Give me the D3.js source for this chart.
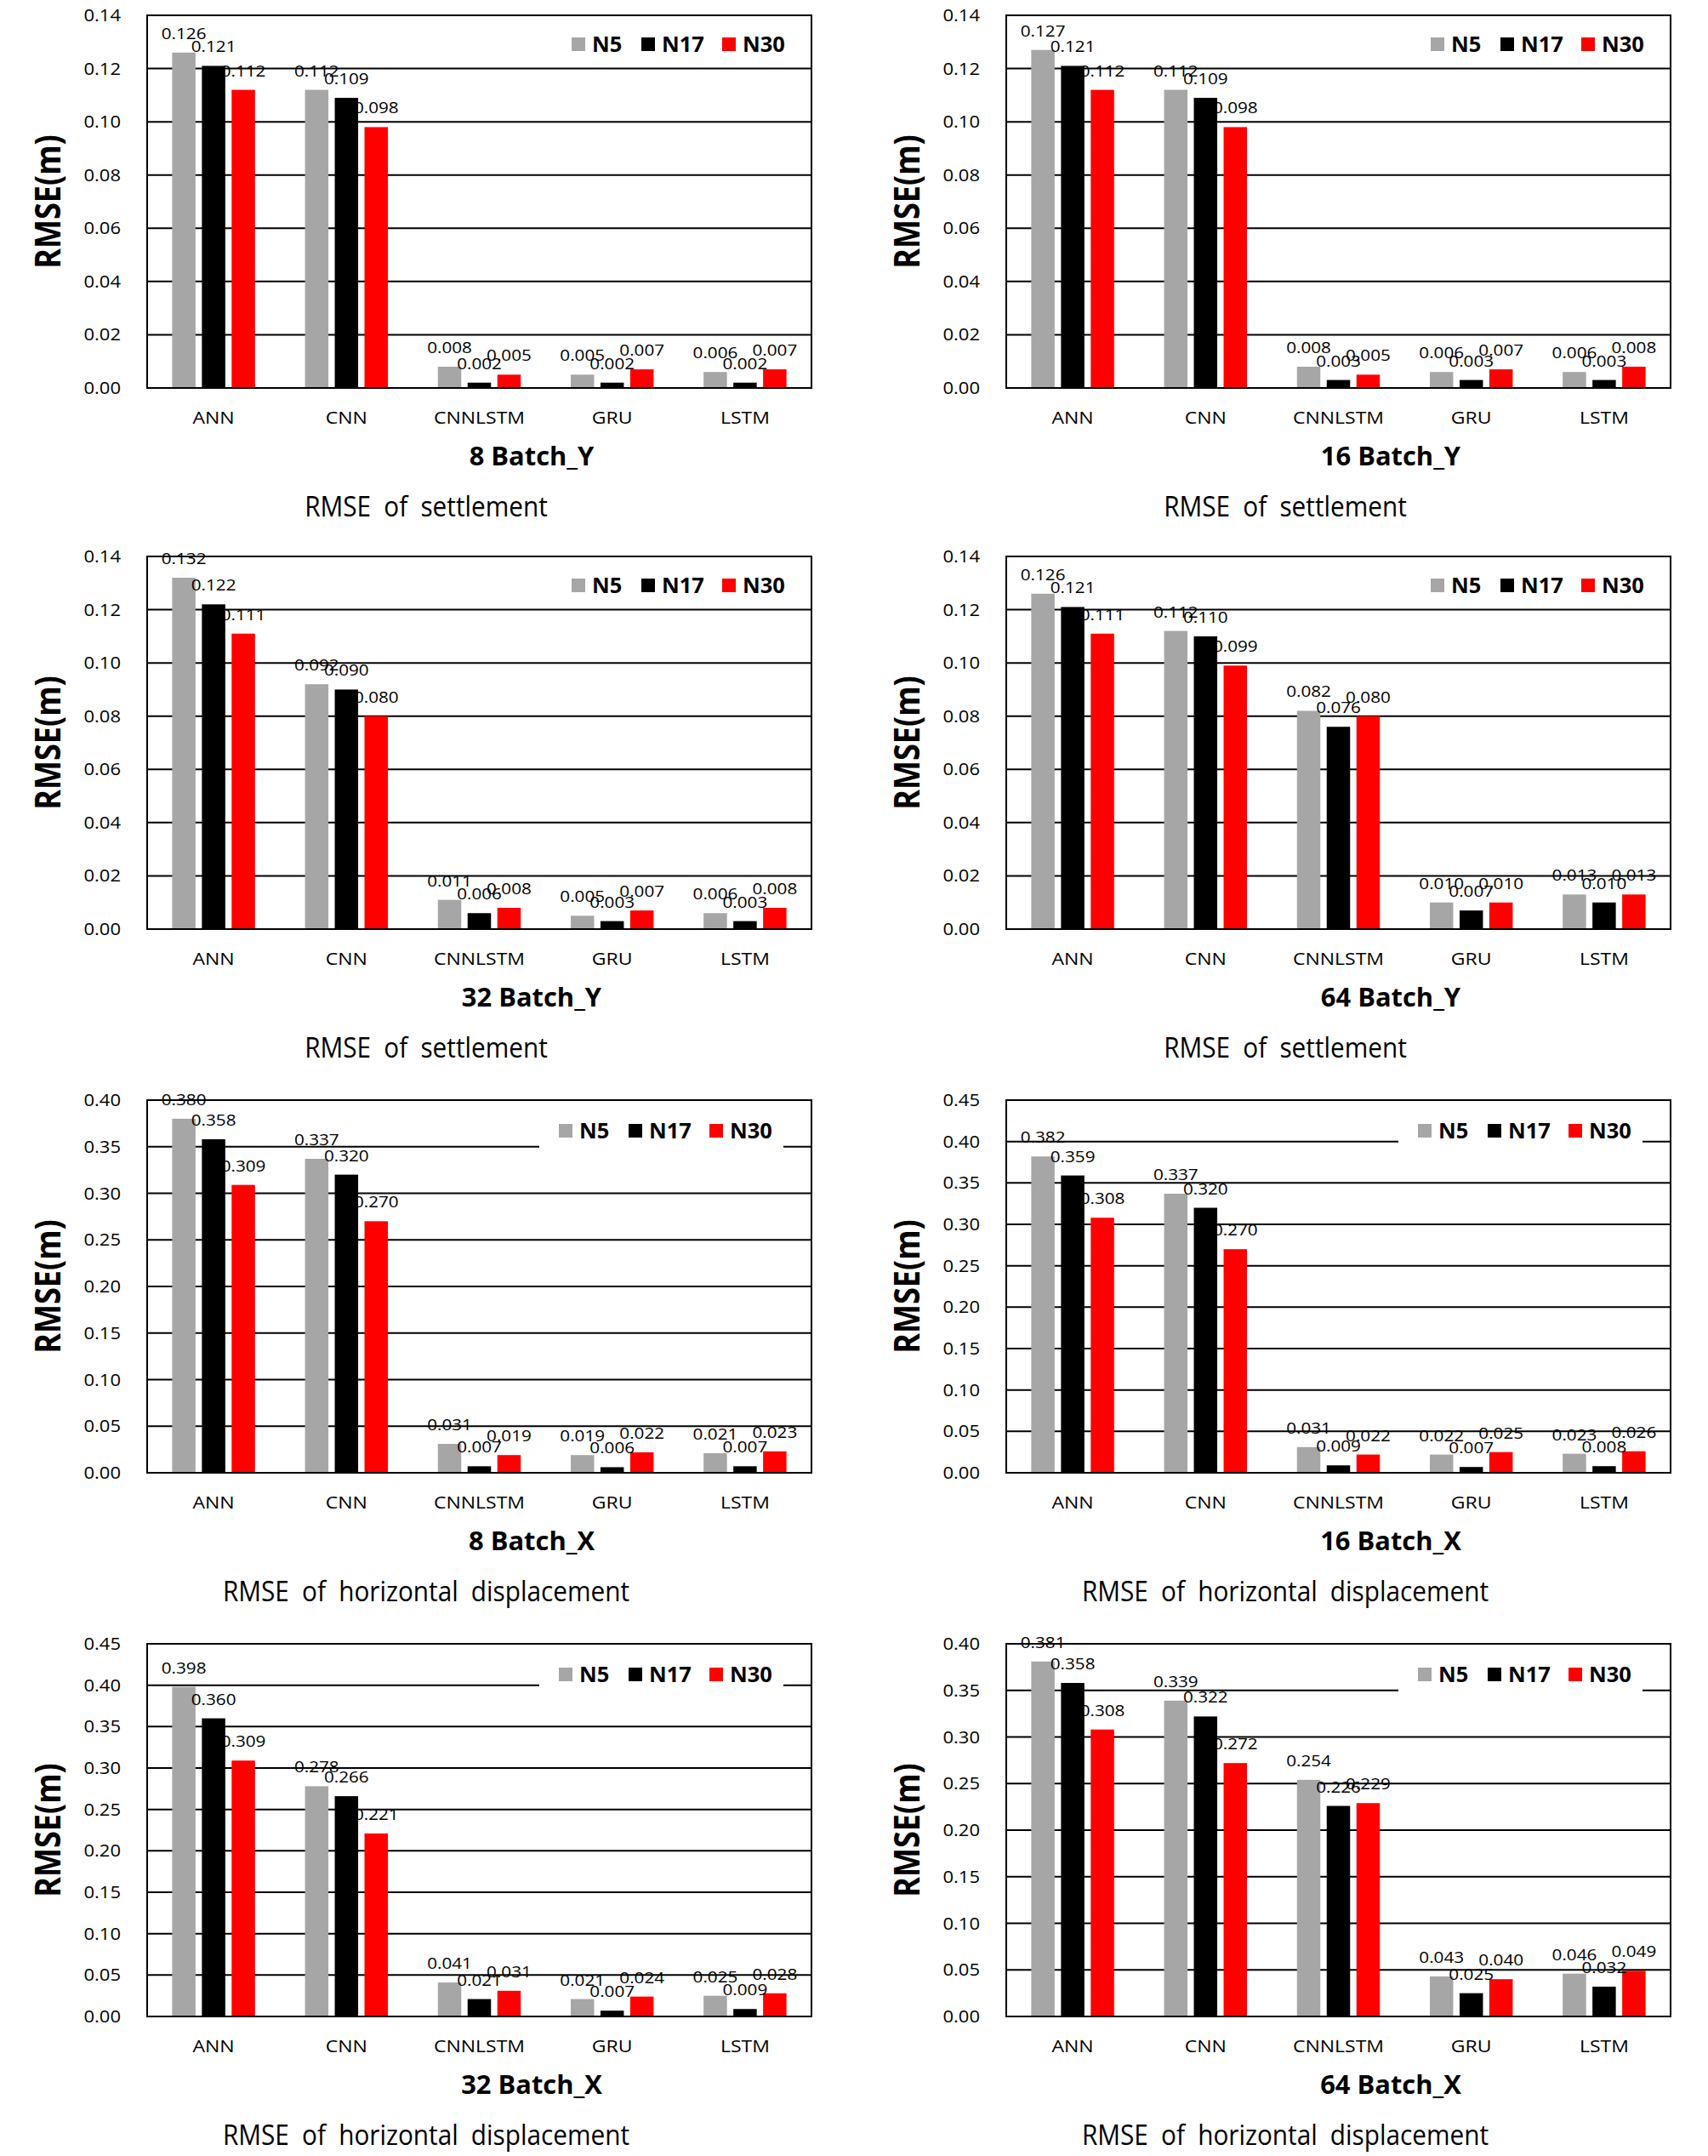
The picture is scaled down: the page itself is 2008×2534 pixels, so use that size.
<!DOCTYPE html>
<html>
<head>
<meta charset="utf-8" />
<title>RMSE by batch size</title>
<script src="https://d3js.org/d3.v7.min.js"></script>
<style>
  body { margin: 0; background: #fff; }
  svg { display: block; }
  text { font-family: 'Open Sans', 'Noto Sans', sans-serif; fill: #000; }
</style>
</head>
<body>
<svg id="chart"></svg>
<script>
const models = ['ANN', 'CNN', 'CNNLSTM', 'GRU', 'LSTM']
const series = ['N5', 'N17', 'N30']

// one row per model: [N5, N17, N30]
const batch8Y = [[0.126, 0.121, 0.112], [0.112, 0.109, 0.098], [0.008, 0.002, 0.005], [0.005, 0.002, 0.007], [0.006, 0.002, 0.007]]
const batch16Y = [[0.127, 0.121, 0.112], [0.112, 0.109, 0.098], [0.008, 0.003, 0.005], [0.006, 0.003, 0.007], [0.006, 0.003, 0.008]]
const batch32Y = [[0.132, 0.122, 0.111], [0.092, 0.090, 0.080], [0.011, 0.006, 0.008], [0.005, 0.003, 0.007], [0.006, 0.003, 0.008]]
const batch64Y = [[0.126, 0.121, 0.111], [0.112, 0.110, 0.099], [0.082, 0.076, 0.080], [0.010, 0.007, 0.010], [0.013, 0.010, 0.013]]
const batch8X = [[0.380, 0.358, 0.309], [0.337, 0.320, 0.270], [0.031, 0.007, 0.019], [0.019, 0.006, 0.022], [0.021, 0.007, 0.023]]
const batch16X = [[0.382, 0.359, 0.308], [0.337, 0.320, 0.270], [0.031, 0.009, 0.022], [0.022, 0.007, 0.025], [0.023, 0.008, 0.026]]
const batch32X = [[0.398, 0.360, 0.309], [0.278, 0.266, 0.221], [0.041, 0.021, 0.031], [0.021, 0.007, 0.024], [0.025, 0.009, 0.028]]
const batch64X = [[0.381, 0.358, 0.308], [0.339, 0.322, 0.272], [0.254, 0.226, 0.229], [0.043, 0.025, 0.040], [0.046, 0.032, 0.049]]

const ticksY = [0, 0.02, 0.04, 0.06, 0.08, 0.10, 0.12, 0.14]
const ticksX40 = [0, 0.05, 0.10, 0.15, 0.20, 0.25, 0.30, 0.35, 0.40]
const ticksX45 = [0, 0.05, 0.10, 0.15, 0.20, 0.25, 0.30, 0.35, 0.40, 0.45]

const titles = ['8 Batch_Y', '16 Batch_Y', '32 Batch_Y', '64 Batch_Y', '8 Batch_X', '16 Batch_X', '32 Batch_X', '64 Batch_X']
const captions = ['RMSE of settlement', 'RMSE of settlement', 'RMSE of settlement', 'RMSE of settlement',
    'RMSE of horizontal displacement', 'RMSE of horizontal displacement',
    'RMSE of horizontal displacement', 'RMSE of horizontal displacement']
const panelValues = [batch8Y, batch16Y, batch32Y, batch64Y, batch8X, batch16X, batch32X, batch64X]
const panelTicks = [ticksY, ticksY, ticksY, ticksY, ticksX40, ticksX45, ticksX45, ticksX40]
const yTitle = 'RMSE(m)'

// layout
const W = 2008, H = 2534
const colX = [173, 1183]
const rowY = [18, 654, 1293, 1932]
const plotW = 781, plotH = 438
const SX = 1.15 // the source figure is stretched sideways
const colors = { N5: '#a6a6a6', N17: '#000000', N30: '#ff0000' }

const svg = d3.select('#chart').attr('width', W).attr('height', H)

function txt(g, x, y, str, size, opts = {}) {
    const t = g.append('text')
        .attr('transform', `translate(${x},${y}) scale(${opts.sx || SX},1)` + (opts.rotate ? ' rotate(-90)' : ''))
        .attr('text-anchor', opts.anchor || 'middle')
        .style('font-size', size + 'px')
        .style('font-weight', opts.bold ? 700 : 400)
        .text(str)
    if (opts.dy) t.attr('dy', opts.dy)
    if (opts.ws) t.style('word-spacing', opts.ws + 'px')
    return t
}

panelValues.forEach((vals, i) => {
    const left = colX[i % 2]
    const top = rowY[Math.floor(i / 2)]
    const ticks = panelTicks[i]
    const isY = i < 4
    const g = svg.append('g').attr('transform', `translate(${left},${top})`)

    const y = d3.scaleLinear().domain([0, d3.max(ticks)]).range([plotH, 0])
    const x0 = d3.scaleBand().domain(models).range([0, plotW])
    const x1 = d3.scaleBand().domain(series).range([0, x0.bandwidth()])
        .paddingInner(0.214).paddingOuter(0.84)

    // gridlines
    g.selectAll('line.grid').data(ticks).enter().append('line')
        .attr('class', 'grid')
        .attr('x1', 0).attr('x2', plotW)
        .attr('y1', d => y(d)).attr('y2', d => y(d))
        .style('stroke', '#000').style('stroke-width', 2)

    // legend backing
    const legX = isY ? 499 : 484
    const legY = isY ? 34 : 36
    g.append('rect')
        .attr('x', legX - 23).attr('y', legY - 22)
        .attr('width', 287).attr('height', 44)
        .style('fill', '#fff')

    // bars
    const groups = g.selectAll('g.model').data(vals).enter().append('g')
        .attr('transform', (d, k) => `translate(${x0(models[k])},0)`)
    groups.selectAll('rect').data(d => d.map((v, s) => ({ v, s: series[s] }))).enter().append('rect')
        .attr('x', d => x1(d.s))
        .attr('width', x1.bandwidth())
        .attr('y', d => y(d.v))
        .attr('height', d => plotH - y(d.v))
        .style('fill', d => colors[d.s])

    // frame
    g.append('rect')
        .attr('width', plotW).attr('height', plotH)
        .style('fill', 'none').style('stroke', '#000').style('stroke-width', 2)

    // data labels
    groups.each(function (d, k) {
        const gg = d3.select(this)
        d.forEach((v, s) => {
            txt(gg, x1(series[s]) + x1.bandwidth() / 2, y(v) - 16, d3.format('.3f')(v), 18)
        })
    })

    // y tick labels
    ticks.forEach(t => txt(g, -31, y(t) + 7, d3.format('.2f')(t), 20, { anchor: 'end', sx: 1.1 }))

    // category labels
    models.forEach(m => txt(g, x0(m) + x0.bandwidth() / 2, plotH + 42, m, 20))

    // axis title
    txt(g, -117, plotH / 2, yTitle, 36, { bold: true, rotate: true, dy: '0.36em' })

    // chart title and caption
    txt(g, 452, plotH + 91, titles[i], 30, { bold: true, sx: 1.03 })
    txt(g, 328, plotH + 151, captions[i], 32, { sx: 0.93, ws: 8 })

    // legend
    const legOff = [0, 82, 177]
    series.forEach((s, k) => {
        g.append('rect')
            .attr('x', legX + legOff[k]).attr('y', legY - 8)
            .attr('width', 16).attr('height', 16)
            .style('fill', colors[s])
        txt(g, legX + legOff[k] + 24, legY + 9, s, 25, { bold: true, anchor: 'start', sx: 1.02 })
    })
})
</script>
</body>
</html>
